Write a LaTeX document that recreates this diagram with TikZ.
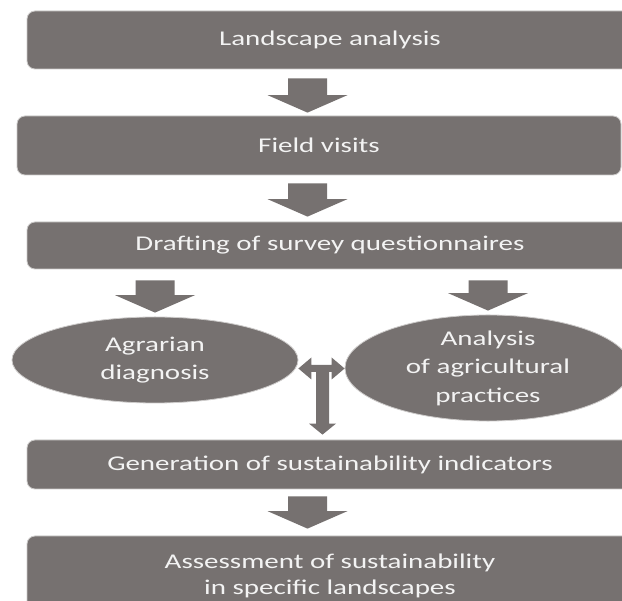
\documentclass[tikz,border=0pt]{standalone}
\usepackage{fontspec}
\setmainfont{Carlito}[FakeStretch=1.38]
\usetikzlibrary{shapes.geometric,calc}
\definecolor{boxgrey}{RGB}{118,113,112}
\definecolor{edgegrey}{RGB}{205,203,202}
\definecolor{txt}{RGB}{243,243,243}
\tikzset{
  stage/.style={fill=boxgrey, draw=edgegrey, line width=0.8pt, rounded corners=8pt,
    text=txt, align=center, inner sep=0pt, font=\fontsize{21}{25.5}\selectfont},
  oval/.style={ellipse, fill=boxgrey, draw=edgegrey, line width=0.8pt,
    text=txt, align=center, inner sep=0pt, font=\fontsize{21}{28.5}\selectfont},
  blockfill/.style={fill=boxgrey},
}
\newcommand\blockdown[2]{%
  \fill[blockfill] let \p1=(#1), \p2=(#2) in
    (\x2-19.5pt,\y1) -- (\x2-19.5pt,\y2+17.5pt) -- (\x2-40pt,\y2+17.5pt) -- (\x2,\y2)
    -- (\x2+40pt,\y2+17.5pt) -- (\x2+19.5pt,\y2+17.5pt) -- (\x2+19.5pt,\y1) -- cycle;}
\begin{document}
\begin{tikzpicture}[x=1pt,y=-1pt]
\useasboundingbox (0,0) rectangle (622,601);
\clip (0,0) rectangle (622,601);
\fill[white] (0,0) rectangle (622,601);

\node[stage, minimum width=606pt, minimum height=58pt] (b1) at (330,40) {Landscape analysis};
\node[stage, minimum width=604pt, minimum height=59pt] (b2) at (319,145.5) {Field visits};
\node[stage, minimum width=606pt, minimum height=47pt] (b3) at (330,245.5) {Drafting of survey questionnaires};
\node[oval, minimum width=286pt, minimum height=86pt] (eL) at (155,360) {Agrarian\\diagnosis};
\node[oval, minimum width=286pt, minimum height=102pt] (eR) at (488,368) {Analysis\\of agricultural\\practices};
\node[stage, minimum width=606pt, minimum height=49pt] (b4) at (330,464.5) {Generation of sustainability indicators};
\node[stage, minimum width=606pt, minimum height=80pt] (b5) at (330,576) {Assessment of sustainability\\in specific landscapes};

\coordinate (xa) at (307.5,0);
\coordinate (xl) at (155,0);
\coordinate (xr) at (488,0);
\coordinate (tc) at (322.5,368.5);

\blockdown{$(xa |- b1.south)+(0,9)$}{$(xa |- b2.north)+(0,-3)$}
\blockdown{$(xa |- b2.south)+(0,8)$}{$(xa |- b3.north)+(0,-5)$}
\blockdown{$(xl |- b3.south)+(0,11)$}{$(xl |- eL.north)+(0,-4)$}
\blockdown{$(xr |- b3.south)+(0,11)$}{$(xr |- eR.north)+(0,-4)$}
\blockdown{$(xa |- b4.south)+(0,7)$}{$(xa |- b5.north)+(0,-7)$}

\fill[blockfill] let \p1=(eL.east), \p2=(eR.west), \p3=(tc), \p4=($(tc |- b4.north)+(0,-5)$) in
  (\x1,\y3) -- (\x1+13pt,\y3+11pt) -- (\x1+13pt,\y3+3.5pt) -- (\x2-13pt,\y3+3.5pt)
  -- (\x2-13pt,\y3+11pt) -- (\x2,\y3) -- (\x2-13pt,\y3-11pt) -- (\x2-13pt,\y3-3.5pt)
  -- (\x3+6.5pt,\y3-3.5pt) -- (\x3+6.5pt,\y4+11pt) -- (\x3+13.5pt,\y4+11pt) -- (\x3,\y4)
  -- (\x3-13.5pt,\y4+11pt) -- (\x3-6.5pt,\y4+11pt) -- (\x3-6.5pt,\y3-3.5pt)
  -- (\x1+13pt,\y3-3.5pt) -- (\x1+13pt,\y3-11pt) -- cycle;
\end{tikzpicture}
\end{document}
